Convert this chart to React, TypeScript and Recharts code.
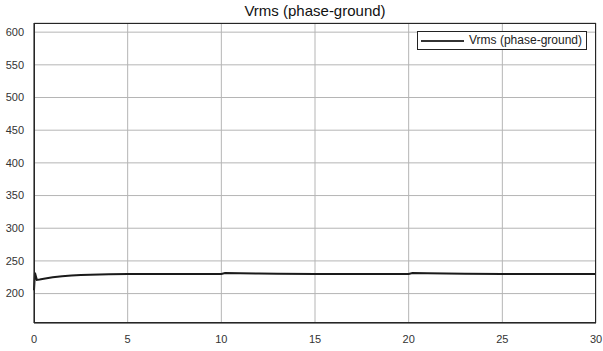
import React from 'react';
import { LineChart, Line, XAxis, YAxis, CartesianGrid, Legend } from 'recharts';

// time (s) and rms voltage
const time = [0, 0.05, 0.15, 0.3, 0.6, 1, 1.5, 2, 2.5, 3, 4, 5, 8, 10, 10.2, 11, 12, 13, 15, 18, 20, 20.2, 21, 22, 23, 25, 30];
const vrms = [205, 232, 221, 221.5, 223, 225, 226.5, 227.5, 228.3, 229, 229.6, 230, 230, 230, 231.5, 231, 230.6, 230.3, 230, 230, 230, 231.5, 231, 230.6, 230.3, 230, 230];
const xTicks = [0, 5, 10, 15, 20, 25, 30];
const yTicks = [200, 250, 300, 350, 400, 450, 500, 550, 600];

const data = time.map((t, i) => ({ t, v: vrms[i] }));

const LegendBox = () => (
  <div style={{ border: '1px solid #222', background: '#fff', padding: '1px 4px 1px 3px', display: 'flex', alignItems: 'center', fontSize: 12, color: '#222', lineHeight: '15px' }}>
    <div style={{ width: 43, height: 0, borderTop: '2px solid #333', marginRight: 5 }} />
    <span>Vrms (phase-ground)</span>
  </div>
);

const App: React.FC = () => {
  return (
    <div style={{ position: 'absolute', left: 0, top: 0, width: 603, height: 351, background: '#fff', fontFamily: 'Liberation Sans, Arial, sans-serif' }}>
      <div style={{ position: 'absolute', top: 2, left: 34, width: 562, textAlign: 'center', fontSize: 15, color: '#111' }}>
        Vrms (phase-ground)
      </div>
      <LineChart width={603} height={351} data={data} margin={{ top: 23, right: 7, bottom: 0, left: 0 }}>
        <CartesianGrid stroke="#b5b5b5" />
        <XAxis dataKey="t" type="number" domain={[0, 30]} ticks={xTicks} stroke="#262626" tickLine={false}
          tick={{ fill: '#333', fontSize: 11 }} height={28} tickMargin={6} />
        <YAxis type="number" domain={[155, 614]} ticks={yTicks} allowDataOverflow stroke="#262626" tickLine={false}
          tick={{ fill: '#333', fontSize: 11 }} width={34} tickMargin={4} />
        <Legend layout="horizontal" verticalAlign="middle" align="center" content={<LegendBox />}
          wrapperStyle={{ top: 31, right: 16, left: 'auto', bottom: 'auto', width: 'auto' }} />
        <Line type="linear" dataKey="v" stroke="#1a1a1a" strokeWidth={2} dot={false} isAnimationActive={false} />
      </LineChart>
      {/* axes box */}
      <div style={{ position: 'absolute', left: 34, top: 23, width: 562, height: 300, boxSizing: 'border-box', border: '1px solid #262626', pointerEvents: 'none' }} />
    </div>
  );
};

export default App;
